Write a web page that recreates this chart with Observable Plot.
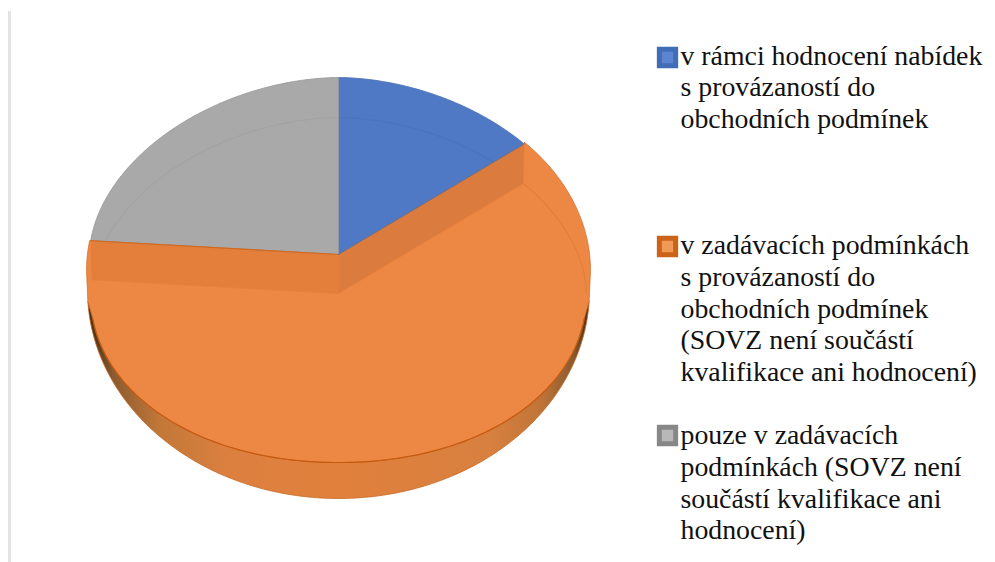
<!DOCTYPE html>
<html><head><meta charset="utf-8">
<script src="https://cdn.jsdelivr.net/npm/d3@7"></script>
<script src="https://cdn.jsdelivr.net/npm/@observablehq/plot@0.6"></script>
<style>html,body{margin:0;padding:0;background:#fff}svg{display:block}</style>
</head><body><div id="chart"></div>
<script>
const categories = [
  "v rámci hodnocení nabídek\ns provázaností do\nobchodních podmínek",
  "v zadávacích podmínkách\ns provázaností do\nobchodních podmínek\n(SOVZ není součástí\nkvalifikace ani hodnocení)",
  "pouze v zadávacích\npodmínkách (SOVZ není\nsoučástí kvalifikace ani\nhodnocení)"
];
const shares = [13.8, 62.7, 23.5];

// pie-drawing layout (not data)
const colors = {blue:"#5079c5", orange:"#ed8744", gray:"#a9a9a9"};
const E_top   = {cx:338, cy:254, rx:249, ry:177, p:1.85};
const E_ghost = {cx:338, cy:293, rx:248, ry:176, p:1.85};
const E_surf  = {cx:338, cy:293, rx:248, ry:169, p:2.08};
const E_outer = {cx:338, cy:270, rx:252, ry:190, p:2};
const E_side  = {cx:338, cy:290, rx:251, ry:208, p:2};
const apexTop = [338, 254], apexLow = [338, 293];

const rad = d => d * Math.PI / 180;
const pow = (v, e) => Math.sign(v) * Math.pow(Math.abs(v), e);
const pt = (deg, E) => [
  E.cx + E.rx * pow(Math.sin(rad(deg)), 2 / E.p),
  E.cy - E.ry * pow(Math.cos(rad(deg)), 2 / E.p)
];
const arc = (a, b, E) => {
  const n = Math.max(2, Math.ceil(Math.abs(b - a)));
  return d3.range(n + 1).map(i => pt(a + (b - a) * i / n, E));
};
const total = d3.sum(shares);
const t1 = shares[0] / total * 360;
const t2 = t1 + shares[1] / total * 360;

const corner1 = pt(t1, E_top), corner2 = pt(t2, E_top);
const low1 = pt(t1, E_ghost), low2 = pt(t2, E_ghost);
// where the corners fall on the outer rim ellipse
const a1 = Math.asin((corner1[0] - E_outer.cx) / E_outer.rx) * 180 / Math.PI;
const a2 = 270 + Math.atan2((E_outer.cy - corner2[1]) / E_outer.ry, (E_outer.cx - corner2[0]) / E_outer.rx) * 180 / Math.PI;

const blueTop = [apexTop, ...arc(0, t1, E_top), apexTop];
const grayTop = [apexTop, ...arc(t2, 360, E_top), apexTop];
const sideShape = arc(93, 267, E_side);
const orangeMain = [corner1, ...arc(a1, 90, E_outer), pt(93, E_side), ...arc(98, 262, E_surf), pt(267, E_side), ...arc(270, a2, E_outer), apexTop, corner1];
const wallRight = [apexTop, corner1, low1, apexLow, apexTop];
const wallLeft = [apexTop, corner2, low2, apexLow, apexTop];

const gradient = () => {
  const defs = d3.create("svg:defs");
  const g = defs.append("linearGradient").attr("id", "sideGrad")
    .attr("gradientUnits", "userSpaceOnUse").attr("x1", 87).attr("x2", 590).attr("y1", 0).attr("y2", 0);
  [[0, "#3f2a12"], [0.02, "#5c3d1e"], [0.05, "#8a5a30"], [0.145, "#c27838"], [0.28, "#dc8040"], [0.5, "#e1803c"],
   [0.8, "#d88040"], [0.9, "#c07538"], [0.966, "#8a5a30"], [1, "#3f2a12"]]
    .forEach(([o, c]) => g.append("stop").attr("offset", o).attr("stop-color", c));
  return defs.node();
};

const legendItems = categories.map((label, i) => ({label, i, top: [42, 231.5, 421.5][i], swatch: [57, 246, 435][i]}));
const swatchFill = ["#5b86cf", "#f09a58", "#b8b8b8"];
const swatchStroke = ["#3f6db6", "#cb6318", "#878787"];

const chart = Plot.plot({
  width: 995, height: 562, margin: 0,
  x: {domain: [0, 995], range: [0, 995], axis: null},
  y: {domain: [0, 562], range: [0, 562], axis: null},
  style: {background: "#fff"},
  marks: [
    gradient,
    Plot.ruleX([9], {y1: 11, y2: 562, stroke: "#e3e3e3", strokeWidth: 3}),
    Plot.line(blueTop, {fill: colors.blue, stroke: "#4a70b4", strokeWidth: 0.8}),
    Plot.line(grayTop, {fill: colors.gray, stroke: "#989898", strokeWidth: 0.8}),
    Plot.line(arc(0, t1, E_ghost), {stroke: "#4a74bc", strokeWidth: 1.2}),
    Plot.line(arc(t2, 360, E_ghost), {stroke: "#a3a3a3", strokeWidth: 1.2}),
    Plot.line(sideShape, {fill: "url(#sideGrad)", stroke: "#c86a24", strokeWidth: 0.8}),
    Plot.line(orangeMain, {fill: colors.orange, stroke: "#cf6c26", strokeWidth: 0.7}),
    Plot.line(wallLeft, {fill: "#e37f3a", stroke: "none"}),
    Plot.line(wallRight, {fill: "#dc7b3e", stroke: "none"}),
    Plot.line([corner2, apexTop], {stroke: "#cf6a22", strokeWidth: 1.2}),
    Plot.line([apexTop, corner1], {stroke: "#5f6f90", strokeWidth: 0.9}),
    Plot.line([low2, apexLow, low1], {stroke: "#e8803a", strokeWidth: 1}),
    Plot.line([corner1, low1], {stroke: "#e8803a", strokeWidth: 0.8}),
    Plot.line(arc(t1, 90, E_ghost), {stroke: "#e37d37", strokeWidth: 1.1}),
    Plot.line(arc(98, 262, E_surf), {stroke: "#c55a11", strokeWidth: 1.2}),
    Plot.dot(legendItems, {x: 667, y: "swatch", symbol: "square", r: 9.2,
      fill: d => swatchFill[d.i], stroke: d => swatchStroke[d.i], strokeWidth: 5}),
    Plot.text(legendItems, {x: 680, y: "top", text: "label", textAnchor: "start", lineAnchor: "top",
      fontFamily: "'Liberation Serif', serif", fontSize: 27.8, lineHeight: 1.135, fill: "#111"})
  ]
});
document.getElementById("chart").append(chart);
</script>
</body></html>
